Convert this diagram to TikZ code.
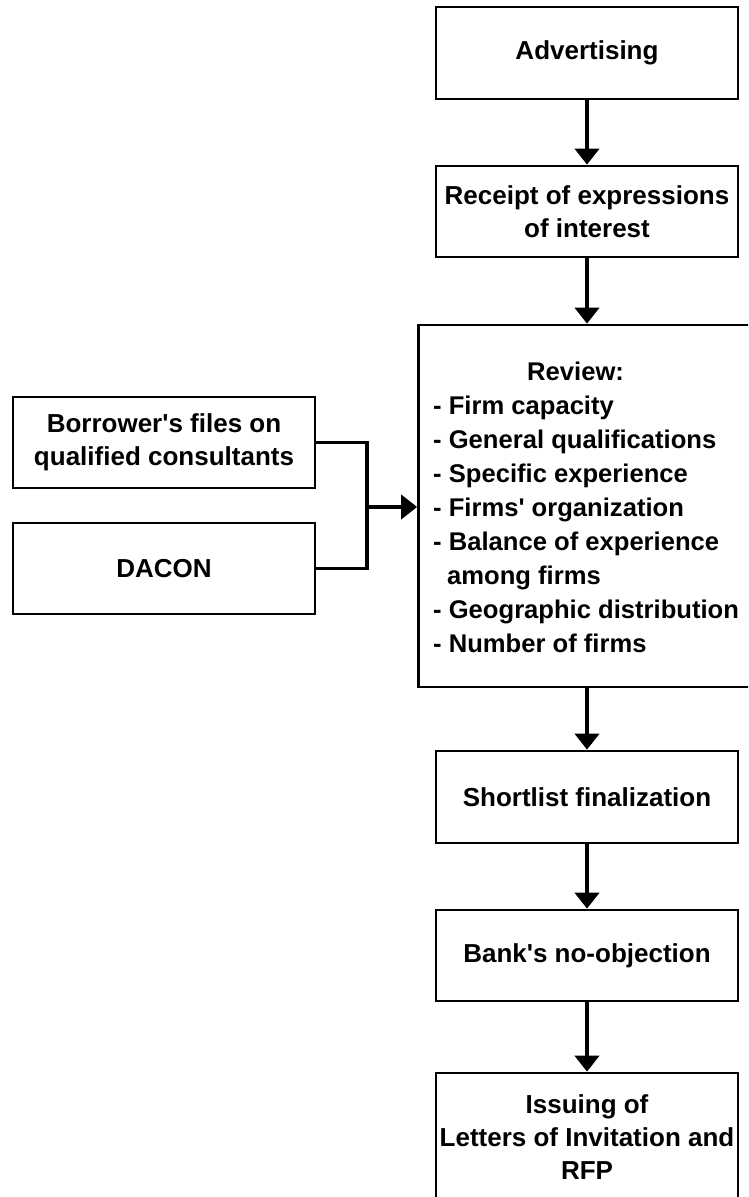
\documentclass[tikz,border=0pt]{standalone}
\usepackage{fontspec}
\setmainfont{Liberation Sans}[Ligatures=TeXOff]
\usetikzlibrary{arrows.meta}
\begin{document}
\begin{tikzpicture}[x=1pt,y=-1pt,
  box/.style={draw, line width=2.7pt, minimum width=302pt, minimum height=92pt,
    inner sep=0pt, align=center, font=\fontsize{26}{33}\selectfont\bfseries},
  txt/.style={inner sep=0pt, align=left, font=\fontsize{25.6}{34}\selectfont\bfseries},
  flow/.style={line width=4pt, -{Triangle[width=24pt,length=16pt]}},
  link/.style={line width=3.5pt}]
\useasboundingbox (0,0) rectangle (748,1197);
\clip (0,0) rectangle (748,1197);
% main column
\node[box] (adv) at (587,53) {Advertising};
\node[box, minimum height=91pt] (rec) at (587,211.5) {Receipt of expressions\\of interest};
\node[box, minimum width=333pt, minimum height=362pt] (review) at (585,506) {};
\node[txt, anchor=west] (reviewtext) at (433,507) {\hspace*{94pt}Review:\\
- Firm capacity\\
- General qualifications\\
- Specific experience\\
- Firms' organization\\
- Balance of experience\\
\hspace*{14pt}among firms\\
- Geographic distribution\\
- Number of firms};
\node[box] (short) at (587,797) {Shortlist finalization};
\node[box, minimum height=91pt] (bank) at (587,955.5) {Bank's no-objection};
\node[box, minimum height=129pt] (issue) at (587,1137.5) {Issuing of\\Letters of Invitation and\\RFP};
% side inputs
\node[box, minimum height=91pt] (borrow) at (164,442.5) {Borrower's files on\\qualified consultants};
\node[box, minimum height=91pt] (dacon) at (164,568.5) {DACON};
% connectors
\draw[flow] (adv.south) -- (rec.north);
\draw[flow] (rec.south) -- (rec.south |- review.north);
\draw[flow] (review.south -| short.north) -- (short.north);
\draw[flow] (short.south) -- (bank.north);
\draw[flow] (bank.south) -- (issue.north);
\coordinate (j) at (367,507);
\draw[link] (borrow.east) -| (j) |- (dacon.east);
\draw[flow] (j) -- (j -| review.west);
\end{tikzpicture}
\end{document}
